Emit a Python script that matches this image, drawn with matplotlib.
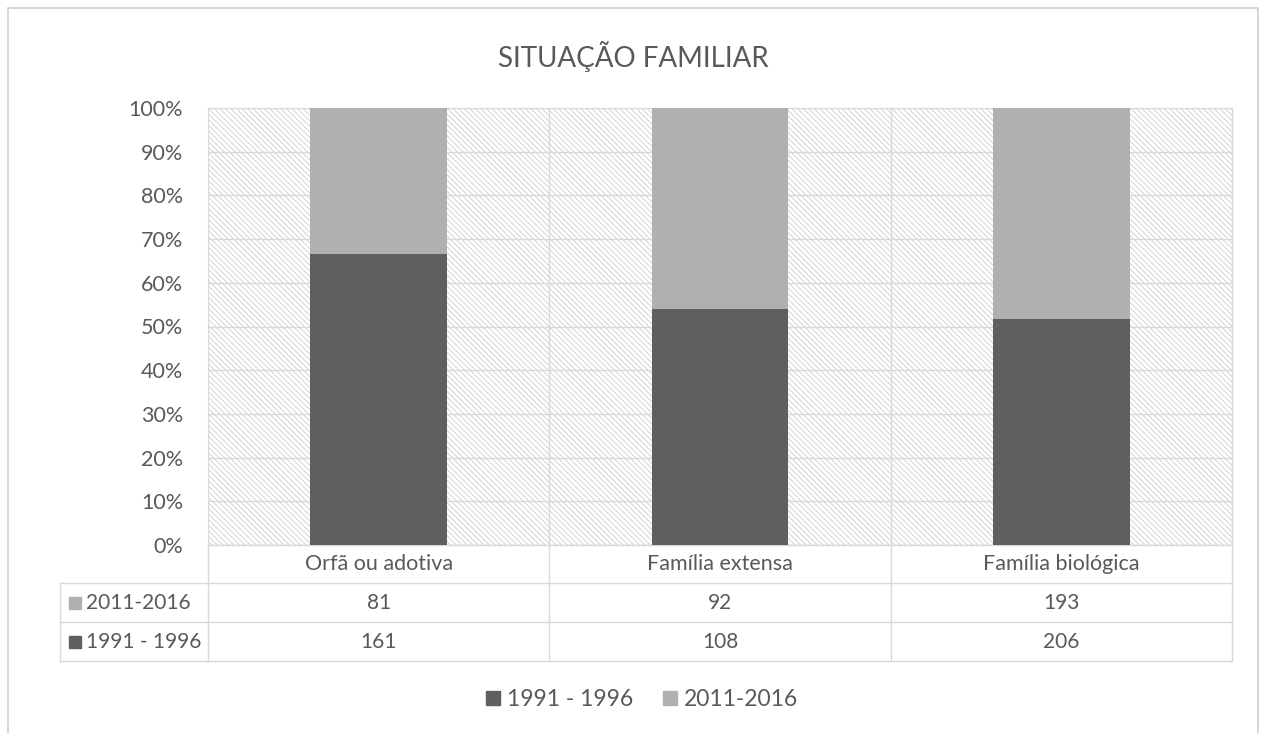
import matplotlib.pyplot as plt
import matplotlib.patches as mpatches
from matplotlib.lines import Line2D
import numpy as np

plt.rcParams['font.family'] = ['Lato', 'DejaVu Sans']
plt.rcParams['hatch.linewidth'] = 0.6

categories = ['Orfã ou adotiva', 'Família extensa', 'Família biológica']
series_names = ['1991 - 1996', '2011-2016']
counts_1991 = [161, 108, 206]
counts_2011 = [81, 92, 193]
colors = ['#5f5f5f', '#b0b0b0']
txt = '#595959'
grid_c = '#d9d9d9'

W, H = 1266, 733
fig = plt.figure(figsize=(W / 100, H / 100), dpi=100)
fig.patch.set_facecolor('white')

# outer chart border
fig.patches.append(mpatches.Rectangle((8 / W, -0.05), 1250 / W, 1 - 8 / H + 0.05,
                                      transform=fig.transFigure, fill=False,
                                      edgecolor='#d0d0d0', linewidth=1.2))

left, right, top, bottom = 208, 1232, 108, 545
ax = fig.add_axes([left / W, 1 - bottom / H, (right - left) / W, (bottom - top) / H])

a = np.array(counts_1991, dtype=float)
b = np.array(counts_2011, dtype=float)
tot = a + b
pa = a / tot
pb = b / tot
x = np.arange(len(categories))

# hatched plot-area background
ax.add_patch(mpatches.Rectangle((0, 0), 1, 1, transform=ax.transAxes, fill=False,
                                hatch='\\\\\\\\\\\\', edgecolor='#cccccc',
                                linewidth=0, zorder=0.5))
ax.bar(x, pa, width=0.4, color=colors[0], zorder=3)
ax.bar(x, pb, width=0.4, bottom=pa, color=colors[1], zorder=3)

ax.set_xlim(-0.5, len(categories) - 0.5)
ax.set_ylim(0, 1)
ticks = np.arange(0, 1.01, 0.1)
ax.set_yticks(ticks)
ax.set_yticklabels(['%d%%' % round(v * 100) for v in ticks])
ax.tick_params(axis='y', length=0, labelsize=15.5, labelcolor=txt, pad=18)
ax.set_xticks([])
ax.grid(axis='y', color=grid_c, linewidth=1, zorder=1)
for s in ax.spines.values():
    s.set_color(grid_c)
ax.spines['bottom'].set_visible(False)

# data table below the plot
ph = bottom - top
def yf(py):
    return (bottom - py) / ph
def xf(px):
    return (px - left) / (right - left)

rows = [545, 583, 622, 661]
tab_left = 60
lk = dict(color=grid_c, linewidth=1, clip_on=False, transform=ax.transAxes)
ax.add_line(Line2D([0, 1], [yf(545)] * 2, **lk))
for r in rows[1:]:
    ax.add_line(Line2D([xf(tab_left), 1], [yf(r)] * 2, **lk))
ax.add_line(Line2D([xf(tab_left)] * 2, [yf(583), yf(661)], **lk))
for i in range(len(categories) + 1):
    xv = i / len(categories)
    y1 = 1 if i else yf(545)
    ax.add_line(Line2D([xv, xv], [yf(661), y1], **lk))

for i, c in enumerate(categories):
    xc = (i + 0.5) / len(categories)
    ax.text(xc, yf(564), c, transform=ax.transAxes, ha='center', va='center',
            fontsize=15.5, color=txt)
    ax.text(xc, yf(603), str(counts_2011[i]), transform=ax.transAxes,
            ha='center', va='center', fontsize=15, color=txt)
    ax.text(xc, yf(642), str(counts_1991[i]), transform=ax.transAxes,
            ha='center', va='center', fontsize=15, color=txt)

for name, col, py in [(series_names[1], colors[1], 603), (series_names[0], colors[0], 642)]:
    ax.plot([xf(75)], [yf(py)], marker='s', markersize=8, color=col,
            transform=ax.transAxes, clip_on=False)
    ax.text(xf(86), yf(py), name, transform=ax.transAxes, ha='left', va='center',
            fontsize=15, color=txt)

fig.text(0.5, 1 - 57 / H, 'SITUAÇÃO FAMILIAR', ha='center', va='center',
         fontsize=20, color=txt)

handles = [Line2D([], [], marker='s', linestyle='', markersize=10, color=colors[0]),
           Line2D([], [], marker='s', linestyle='', markersize=10, color=colors[1])]
fig.legend(handles, series_names, loc='center', bbox_to_anchor=(641 / W, 1 - 700 / H),
           ncol=2, frameon=False, fontsize=16.5, labelcolor=txt,
           handletextpad=0.2, columnspacing=1.2, handlelength=0.8)

fig.savefig('out.png', dpi=100)
